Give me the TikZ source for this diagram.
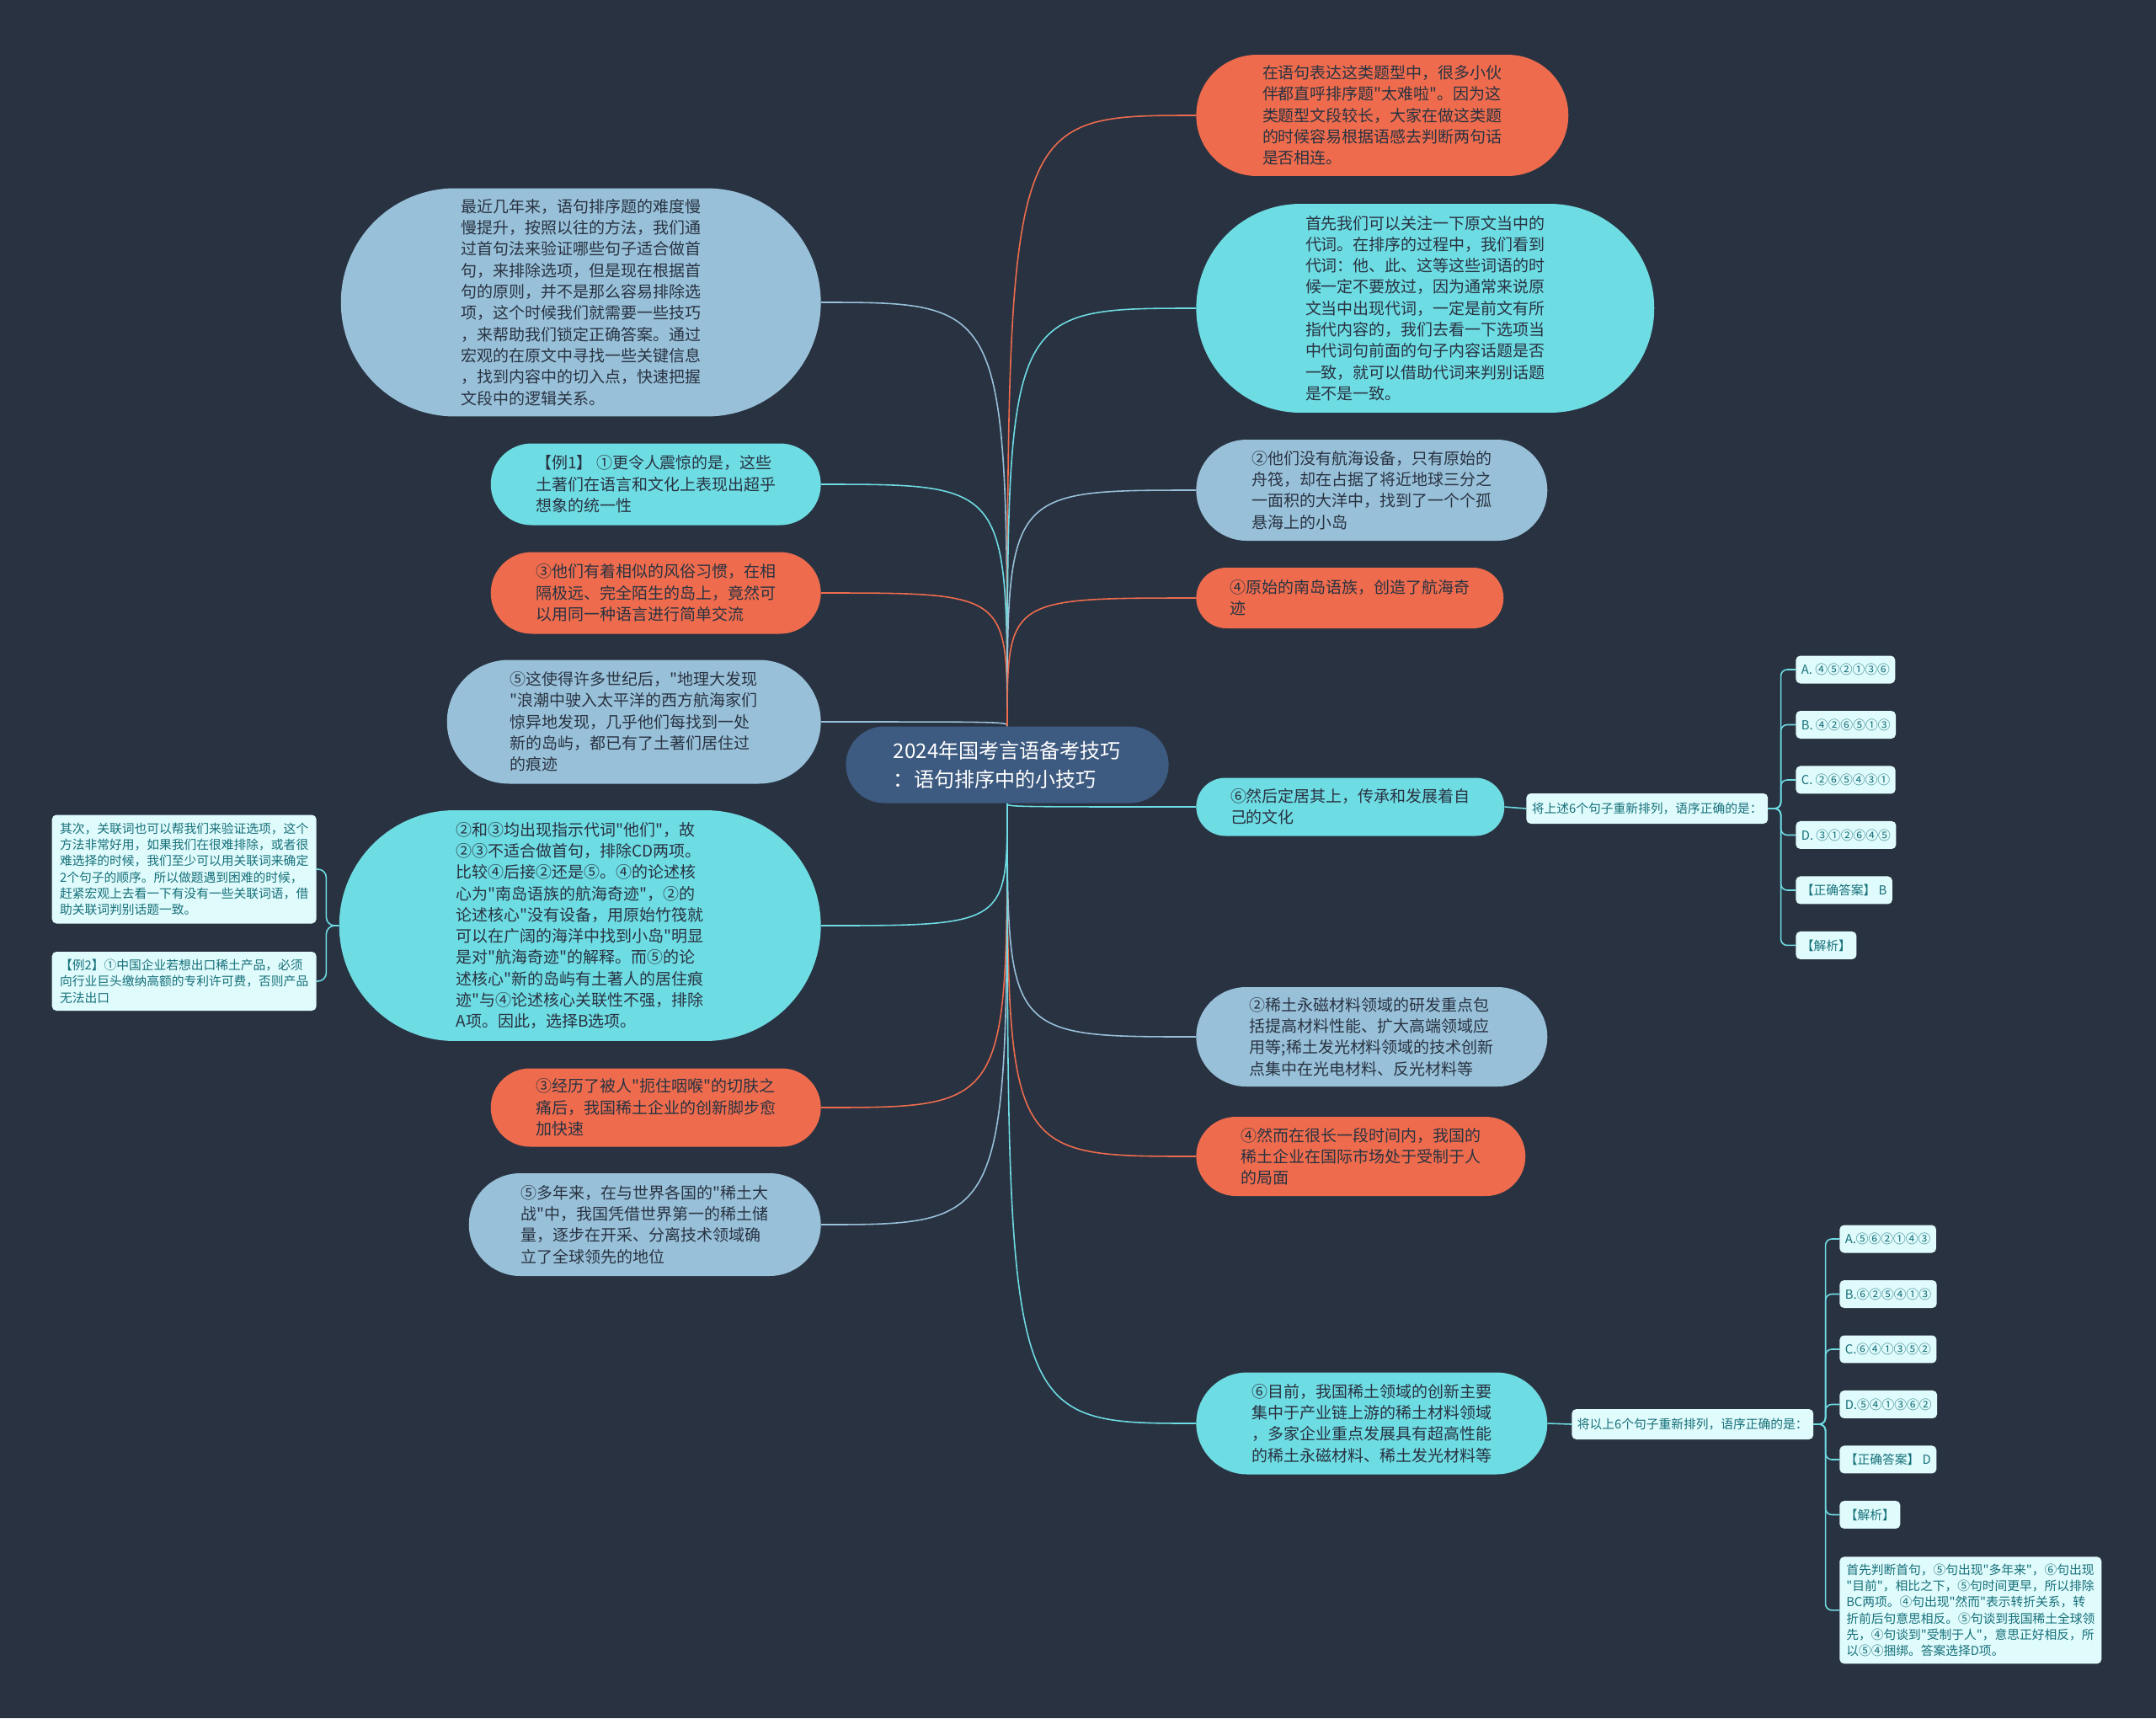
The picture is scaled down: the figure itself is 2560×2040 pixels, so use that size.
\documentclass[tikz,border=0pt]{standalone}
\usepackage{fontspec}
\setmainfont{Noto Sans CJK SC}[Ligatures=TeXOff]
\usetikzlibrary{positioning,shapes.misc,calc}

\definecolor{bgc}{HTML}{293241}
\definecolor{rootc}{HTML}{3D5A80}
\definecolor{orangec}{HTML}{EE6C4D}
\definecolor{tealc}{HTML}{6EDCE3}
\definecolor{bluec}{HTML}{98C1D9}
\definecolor{palec}{HTML}{E0FBFC}
\definecolor{inkc}{HTML}{293241}
\definecolor{notec}{HTML}{16707A}

\newcommand{\bodysz}{\fontsize{10.8pt}{14.4pt}\selectfont}
\newcommand{\notesz}{\fontsize{8.4pt}{11pt}\selectfont}
\newcommand{\rootsz}{\fontsize{13.7pt}{19.4pt}\selectfont}

\pgfdeclarelayer{background}
\pgfsetlayers{background,main}

\begin{document}
\begin{tikzpicture}[
    x=0.02cm, y=-0.02cm,
    bub/.style={rounded rectangle, inner xsep=0pt, inner ysep=0pt, align=left, font=\bodysz, text=inkc},
    note/.style={fill=palec, rounded corners=3pt, inner xsep=0.13cm, inner ysep=0pt, align=left, font=\notesz, text=notec},
    opt/.style={note, minimum height=0.66cm, anchor=west},
    link/.style={draw=#1, line width=0.9pt},
]
    \useasboundingbox (0,0) rectangle (2560,2040);

    % Root
    \node[rounded rectangle, fill=rootc, text=white, font=\rootsz, align=left,
          minimum width=7.9cm, minimum height=1.82cm] (root) at (1196,908)
          {2024年国考言语备考技巧\\：语句排序中的小技巧};

    % Left side
    \node[bub, fill=bluec, anchor=east, minimum width=11.4cm, minimum height=5.42cm] (method) at (975,359)
        {最近几年来，语句排序题的难度慢\\慢提升，按照以往的方法，我们通\\过首句法来验证哪些句子适合做首\\句，来排除选项，但是现在根据首\\句的原则，并不是那么容易排除选\\项，这个时候我们就需要一些技巧\\，来帮助我们锁定正确答案。通过\\宏观的在原文中寻找一些关键信息\\，找到内容中的切入点，快速把握\\文段中的逻辑关系。};
    \node[bub, fill=tealc, anchor=east, minimum width=7.84cm, minimum height=1.94cm] (ex1s1) at (975,575)
        {【例1】 ①更令人震惊的是，这些\\土著们在语言和文化上表现出超乎\\想象的统一性};
    \node[bub, fill=orangec, anchor=east, minimum width=7.84cm, minimum height=1.94cm] (ex1s3) at (975,704)
        {③他们有着相似的风俗习惯，在相\\隔极远、完全陌生的岛上，竟然可\\以用同一种语言进行简单交流};
    \node[bub, fill=bluec, anchor=east, minimum width=8.88cm, minimum height=2.94cm] (ex1s5) at (975,857)
        {⑤这使得许多世纪后，"地理大发现\\"浪潮中驶入太平洋的西方航海家们\\惊异地发现，几乎他们每找到一处\\新的岛屿，都已有了土著们居住过\\的痕迹};
    \node[bub, fill=tealc, anchor=east, minimum width=11.44cm, minimum height=5.48cm] (ex1exp) at (975,1099)
        {②和③均出现指示代词"他们"，故\\②③不适合做首句，排除CD两项。\\比较④后接②还是⑤。④的论述核\\心为"南岛语族的航海奇迹"，②的\\论述核心"没有设备，用原始竹筏就\\可以在广阔的海洋中找到小岛"明显\\是对"航海奇迹"的解释。而⑤的论\\述核心"新的岛屿有土著人的居住痕\\迹"与④论述核心关联性不强，排除\\A项。因此，选择B选项。};
    \node[bub, fill=orangec, anchor=east, minimum width=7.84cm, minimum height=1.86cm] (ex2s3) at (975,1315)
        {③经历了被人"扼住咽喉"的切肤之\\痛后，我国稀土企业的创新脚步愈\\加快速};
    \node[bub, fill=bluec, anchor=east, minimum width=8.36cm, minimum height=2.44cm] (ex2s5) at (975,1454)
        {⑤多年来，在与世界各国的"稀土大\\战"中，我国凭借世界第一的稀土储\\量，逐步在开采、分离技术领域确\\立了全球领先的地位};

    % Notes under the first explanation
    \node[note, anchor=east, minimum width=6.28cm, minimum height=2.58cm] (hint) at (376,1032)
        {其次，关联词也可以帮我们来验证选项，这个\\方法非常好用，如果我们在很难排除，或者很\\难选择的时候，我们至少可以用关联词来确定\\2个句子的顺序。所以做题遇到困难的时候，\\赶紧宏观上去看一下有没有一些关联词语，借\\助关联词判别话题一致。};
    \node[note, anchor=east, minimum width=6.28cm, minimum height=1.4cm] (ex2s1) at (376,1165)
        {【例2】①中国企业若想出口稀土产品，必须\\向行业巨头缴纳高额的专利许可费，否则产品\\无法出口};

    % Right side
    \node[bub, fill=orangec, anchor=west, minimum width=8.84cm, minimum height=2.88cm] (intro) at (1420,137)
        {在语句表达这类题型中，很多小伙\\伴都直呼排序题"太难啦"。因为这\\类题型文段较长，大家在做这类题\\的时候容易根据语感去判断两句话\\是否相连。};
    \node[bub, fill=tealc, anchor=west, minimum width=10.88cm, minimum height=4.96cm] (pronoun) at (1420,366)
        {首先我们可以关注一下原文当中的\\代词。在排序的过程中，我们看到\\代词：他、此、这等这些词语的时\\候一定不要放过，因为通常来说原\\文当中出现代词，一定是前文有所\\指代内容的，我们去看一下选项当\\中代词句前面的句子内容话题是否\\一致，就可以借助代词来判别话题\\是不是一致。};
    \node[bub, fill=bluec, anchor=west, minimum width=8.34cm, minimum height=2.4cm] (ex1s2) at (1420,582)
        {②他们没有航海设备，只有原始的\\舟筏，却在占据了将近地球三分之\\一面积的大洋中，找到了一个个孤\\悬海上的小岛};
    \node[bub, fill=orangec, anchor=west, minimum width=7.3cm, minimum height=1.44cm] (ex1s4) at (1420,710)
        {④原始的南岛语族，创造了航海奇\\迹};
    \node[bub, fill=tealc, anchor=west, minimum width=7.32cm, minimum height=1.38cm] (ex1s6) at (1420,958)
        {⑥然后定居其上，传承和发展着自\\己的文化};
    \node[bub, fill=bluec, anchor=west, minimum width=8.34cm, minimum height=2.36cm] (ex2s2) at (1420,1231)
        {②稀土永磁材料领域的研发重点包\\括提高材料性能、扩大高端领域应\\用等;稀土发光材料领域的技术创新\\点集中在光电材料、反光材料等};
    \node[bub, fill=orangec, anchor=west, minimum width=7.82cm, minimum height=1.88cm] (ex2s4) at (1420,1373)
        {④然而在很长一段时间内，我国的\\稀土企业在国际市场处于受制于人\\的局面};
    \node[bub, fill=tealc, anchor=west, minimum width=8.34cm, minimum height=2.42cm] (ex2s6) at (1420,1690)
        {⑥目前，我国稀土领域的创新主要\\集中于产业链上游的稀土材料领域\\，多家企业重点发展具有超高性能\\的稀土永磁材料、稀土发光材料等};

    % Question 1
    \node[note, anchor=west, minimum height=0.72cm] (ask1) at (1812,960) {将上述6个句子重新排列，语序正确的是：};
    \node[opt] (o1a) at (2132,795) {A. ④⑤②①③⑥};
    \node[opt, below=1.31cm of o1a.west, anchor=west] (o1b) {B. ④②⑥⑤①③};
    \node[opt, below=1.31cm of o1b.west, anchor=west] (o1c) {C. ②⑥⑤④③①};
    \node[opt, below=1.31cm of o1c.west, anchor=west] (o1d) {D. ③①②⑥④⑤};
    \node[opt, below=1.31cm of o1d.west, anchor=west] (o1k) {【正确答案】 B};
    \node[opt, below=1.31cm of o1k.west, anchor=west] (o1j) {【解析】};
    \coordinate[right=0.3cm of ask1.east] (j1);

    % Question 2
    \node[note, anchor=west, minimum height=0.72cm] (ask2) at (1866,1691) {将以上6个句子重新排列，语序正确的是：};
    \node[opt] (o2a) at (2184,1471) {A.⑤⑥②①④③};
    \node[opt, below=1.31cm of o2a.west, anchor=west] (o2b) {B.⑥②⑤④①③};
    \node[opt, below=1.31cm of o2b.west, anchor=west] (o2c) {C.⑥④①③⑤②};
    \node[opt, below=1.31cm of o2c.west, anchor=west] (o2d) {D.⑤④①③⑥②};
    \node[opt, below=1.31cm of o2d.west, anchor=west] (o2k) {【正确答案】 D};
    \node[opt, below=1.31cm of o2k.west, anchor=west] (o2j) {【解析】};
    \node[note, anchor=north west, minimum width=6.22cm, minimum height=2.54cm] (explan) at (2184,1848)
        {首先判断首句，⑤句出现"多年来"，⑥句出现\\"目前"，相比之下，⑤句时间更早，所以排除\\BC两项。④句出现"然而"表示转折关系，转\\折前后句意思相反。⑤句谈到我国稀土全球领\\先，④句谈到"受制于人"，意思正好相反，所\\以⑤④捆绑。答案选择D项。};
    \coordinate[right=0.28cm of ask2.east] (j2);
    \coordinate[left=0.3cm of ex1exp.west] (j0);

    % Connections
    \begin{pgfonlayer}{background}
    \fill[bgc] (0,0) rectangle (2560,2040);
    \draw[link=bluec] (root.north) .. controls (root.north |- method.east) .. (method.east);
    \draw[link=tealc] (root.north) .. controls (root.north |- ex1s1.east) .. (ex1s1.east);
    \draw[link=orangec] (root.north) .. controls (root.north |- ex1s3.east) .. (ex1s3.east);
    \draw[link=bluec] (root.north) .. controls (root.north |- ex1s5.east) .. (ex1s5.east);
    \draw[link=tealc] (root.south) .. controls (root.south |- ex1exp.east) .. (ex1exp.east);
    \draw[link=orangec] (root.south) .. controls (root.south |- ex2s3.east) .. (ex2s3.east);
    \draw[link=bluec] (root.south) .. controls (root.south |- ex2s5.east) .. (ex2s5.east);
    \draw[link=orangec] (root.north) .. controls (root.north |- intro.west) .. (intro.west);
    \draw[link=tealc] (root.north) .. controls (root.north |- pronoun.west) .. (pronoun.west);
    \draw[link=bluec] (root.north) .. controls (root.north |- ex1s2.west) .. (ex1s2.west);
    \draw[link=orangec] (root.north) .. controls (root.north |- ex1s4.west) .. (ex1s4.west);
    \draw[link=tealc] (root.south) .. controls (root.south |- ex1s6.west) .. (ex1s6.west);
    \draw[link=bluec] (root.south) .. controls (root.south |- ex2s2.west) .. (ex2s2.west);
    \draw[link=orangec] (root.south) .. controls (root.south |- ex2s4.west) .. (ex2s4.west);
    \draw[link=tealc] (root.south) .. controls (root.south |- ex2s6.west) .. (ex2s6.west);

    % sub branches
    \draw[link=tealc, rounded corners=0.2cm] (ex1exp.west) -- (j0) |- (hint.east);
    \draw[link=tealc, rounded corners=0.2cm] (ex1exp.west) -- (j0) |- (ex2s1.east);
    \draw[link=tealc] (ex1s6.east) -- (ask1.west);
    \draw[link=tealc, rounded corners=0.15cm] (ask1.east) -- (j1) |- (o1a.west);
    \draw[link=tealc, rounded corners=0.15cm] (ask1.east) -- (j1) |- (o1b.west);
    \draw[link=tealc, rounded corners=0.15cm] (ask1.east) -- (j1) |- (o1c.west);
    \draw[link=tealc, rounded corners=0.15cm] (ask1.east) -- (j1) |- (o1d.west);
    \draw[link=tealc, rounded corners=0.15cm] (ask1.east) -- (j1) |- (o1k.west);
    \draw[link=tealc, rounded corners=0.15cm] (ask1.east) -- (j1) |- (o1j.west);
    \draw[link=tealc] (ex2s6.east) -- (ask2.west);
    \draw[link=tealc, rounded corners=0.15cm] (ask2.east) -- (j2) |- (o2a.west);
    \draw[link=tealc, rounded corners=0.15cm] (ask2.east) -- (j2) |- (o2b.west);
    \draw[link=tealc, rounded corners=0.15cm] (ask2.east) -- (j2) |- (o2c.west);
    \draw[link=tealc, rounded corners=0.15cm] (ask2.east) -- (j2) |- (o2d.west);
    \draw[link=tealc, rounded corners=0.15cm] (ask2.east) -- (j2) |- (o2k.west);
    \draw[link=tealc, rounded corners=0.15cm] (ask2.east) -- (j2) |- (o2j.west);
    \draw[link=tealc, rounded corners=0.15cm] (ask2.east) -- (j2) |- (explan.west);
    \end{pgfonlayer}
\end{tikzpicture}
\end{document}
